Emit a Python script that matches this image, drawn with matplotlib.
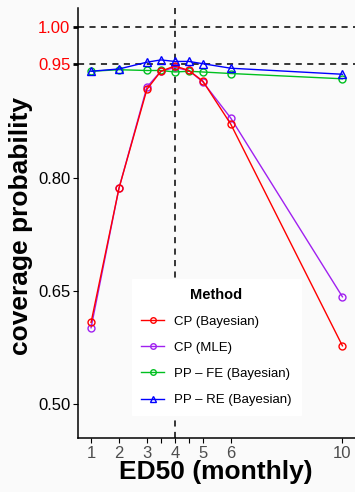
import matplotlib.pyplot as plt

plt.rcParams['font.family'] = ['Liberation Sans', 'DejaVu Sans']

# ED50 values on the x axis
ed50 = [1, 2, 3, 3.5, 4, 4.5, 5, 6, 10]
xtick_labels = ['1', '2', '3', '', '4', '', '5', '6', '10']

# coverage probability per method
cp_bayes = [0.608, 0.786, 0.917, 0.941, 0.948, 0.942, 0.928, 0.871, 0.577]
cp_mle = [0.601, 0.786, 0.920, 0.941, 0.946, 0.942, 0.927, 0.879, 0.642]
pp_fe = [0.941, 0.943, 0.942, 0.942, 0.940, 0.941, 0.940, 0.938, 0.931]
pp_re = [0.941, 0.944, 0.953, 0.956, 0.954, 0.954, 0.951, 0.945, 0.937]

yticks = [0.50, 0.65, 0.80, 0.95, 1.00]
bg = '#FAFAFA'

fig = plt.figure(figsize=(3.55, 4.92), dpi=100, facecolor=bg)
ax = fig.add_axes([0.22, 0.11, 0.78, 0.874])
ax.set_facecolor(bg)

# reference lines
for h in [1.00, 0.95]:
    ax.axhline(h, color='black', lw=1.1, ls=(0, (4, 3.5)), zorder=1)
ax.axvline(4, color='black', lw=1.1, ls=(0, (4, 3.5)), zorder=1)

ax.plot(ed50, cp_bayes, color='#FF0000', lw=1.0, marker='o', ms=5,
        mfc='none', mew=1.0, label='CP (Bayesian)', zorder=3)
ax.plot(ed50, cp_mle, color='#A020F0', lw=1.0, marker='o', ms=5,
        mfc='none', mew=1.0, label='CP (MLE)', zorder=2)
ax.plot(ed50, pp_fe, color='#00C020', lw=1.0, marker='o', ms=5,
        mfc='none', mew=1.0, label='PP \u2013 FE (Bayesian)', zorder=2)
ax.plot(ed50, pp_re, color='#0000FF', lw=1.0, marker='^', ms=6,
        mfc='none', mew=1.0, label='PP \u2013 RE (Bayesian)', zorder=3)

ax.set_xlim(0.536, 10.45)
ax.set_ylim(0.455, 1.025)

ax.set_xticks(ed50)
ax.set_xticklabels(xtick_labels)
ax.set_yticks(yticks)
ax.set_yticklabels(['%.2f' % v for v in yticks])

ax.tick_params(axis='x', labelsize=12, labelcolor='#4D4D4D', length=3.5,
               width=0.8, pad=2)
ax.tick_params(axis='y', labelsize=12, labelcolor='black', length=3.5,
               width=0.8, pad=2)
for lab, v in zip(ax.get_yticklabels(), yticks):
    if v >= 0.95:
        lab.set_color('#FF0000')
ticks = ax.yaxis.get_major_ticks()
for t, v in zip(ticks, yticks):
    if v >= 0.95:
        t.tick1line.set_color('#FF0000')
        t.tick1line.set_markeredgewidth(2.0)

for s in ['top', 'right']:
    ax.spines[s].set_visible(False)
for s in ['left', 'bottom']:
    ax.spines[s].set_linewidth(1.1)

leg = ax.legend(loc='lower center', bbox_to_anchor=(0.5, 0.037),
                title='Method', fontsize=9.5,
                title_fontproperties={'weight': 'bold', 'size': 10.5},
                frameon=True, fancybox=False, edgecolor='white', framealpha=1,
                handlelength=1.7, labelspacing=1.05, borderpad=0.7,
                handletextpad=0.8, markerscale=0.8)
leg.set_zorder(5)

fig.text(0.608, 1 - 479 / 492, 'ED50 (monthly)', fontsize=19,
         fontweight='bold', ha='center', va='baseline')
fig.text(21 / 355, 1 - 226 / 492, 'coverage probability', fontsize=19,
         fontweight='bold', ha='center', va='center', rotation=90)

fig.savefig('out.png', dpi=100, facecolor=bg)
